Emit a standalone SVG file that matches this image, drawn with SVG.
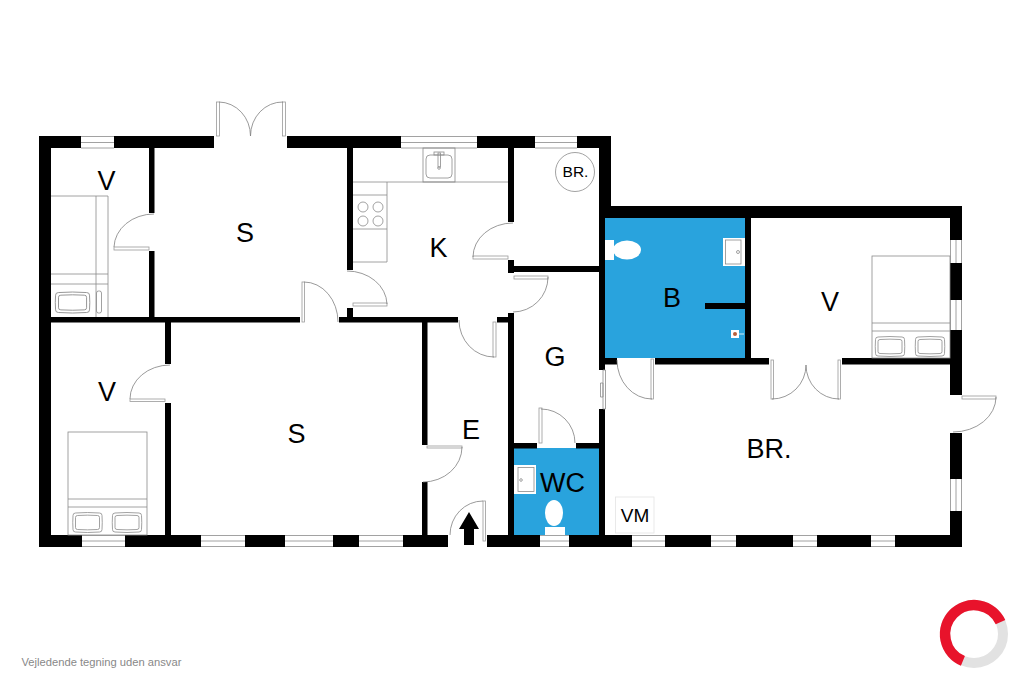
<svg xmlns="http://www.w3.org/2000/svg" width="1024" height="682" viewBox="0 0 1024 682">
<style>
.w{fill:#000}
.b{fill:#29a3dd}
.t{stroke:#8a8a8a;stroke-width:.8;fill:none}
.a{stroke:#808080;stroke-width:.8;fill:none}
.p{stroke:#999;stroke-width:.8;fill:#fff}
.l{font-family:"Liberation Sans",Arial,sans-serif;font-size:27px;fill:#000;text-anchor:middle}
.s{font-family:"Liberation Sans",Arial,sans-serif;font-size:19px;fill:#000;text-anchor:middle}
</style>
<defs>
<g id="pillow" class="t">
<path d="M3 1Q15 0 27 1Q29.500 1 29.500 3.500Q30 10.500 29.500 17.500Q29.500 20 27 20Q15 21 3 20Q.5 20 .5 17.500Q0 10.500 .5 3.500Q.5 1 3 1Z"/>
<path d="M5 3.500Q15 2.800 25 3.500Q27 3.500 27 5.500V15.500Q27 17.500 25 17.500Q15 18.200 5 17.500Q3 17.500 3 15.500V5.500Q3 3.500 5 3.500Z"/>
</g>
</defs>
<rect width="1024" height="682" fill="#fff"/>
<g id="floors">
<rect class="b" x="605" y="218" width="140" height="140"/>
<rect class="b" x="514" y="448" width="85" height="87"/>
</g>
<g id="walls">
<rect class="w" x="39" y="136" width="42" height="12"/>
<rect class="w" x="114" y="136" width="100" height="12"/>
<rect class="w" x="287" y="136" width="114" height="12"/>
<rect class="w" x="477" y="136" width="58" height="12"/>
<rect class="w" x="577" y="136" width="34" height="12"/>
<rect class="w" x="599" y="136" width="12" height="82"/>
<rect class="w" x="599" y="206" width="363" height="12"/>
<rect class="w" x="39" y="136" width="12" height="411"/>
<rect class="w" x="39" y="535" width="43" height="12"/>
<rect class="w" x="125" y="535" width="76" height="12"/>
<rect class="w" x="245" y="535" width="40" height="12"/>
<rect class="w" x="333" y="535" width="26" height="12"/>
<rect class="w" x="403" y="535" width="45" height="12"/>
<rect class="w" x="487" y="535" width="53" height="12"/>
<rect class="w" x="569" y="535" width="63" height="12"/>
<rect class="w" x="665" y="535" width="46" height="12"/>
<rect class="w" x="736" y="535" width="57" height="12"/>
<rect class="w" x="817" y="535" width="54" height="12"/>
<rect class="w" x="895" y="535" width="67" height="12"/>
<rect class="w" x="950" y="206" width="12" height="34"/>
<rect class="w" x="950" y="263" width="12" height="37"/>
<rect class="w" x="950" y="330" width="12" height="65"/>
<rect class="w" x="950" y="433" width="12" height="46"/>
<rect class="w" x="950" y="511" width="12" height="36"/>
<rect class="w" x="149" y="148" width="5.500" height="65"/>
<rect class="w" x="149" y="251" width="5.500" height="66"/>
<rect class="w" x="51" y="317" width="249" height="5.500"/>
<rect class="w" x="339" y="317" width="119" height="5.500"/>
<rect class="w" x="497" y="317" width="11" height="5.500"/>
<rect class="w" x="347" y="148" width="6" height="122"/>
<rect class="w" x="347" y="308" width="6" height="9"/>
<rect class="w" x="508" y="148" width="6" height="74"/>
<rect class="w" x="508" y="260" width="6" height="13"/>
<rect class="w" x="514" y="266" width="85" height="6"/>
<rect class="w" x="508" y="313" width="6" height="222"/>
<rect class="w" x="165" y="322" width="6" height="42"/>
<rect class="w" x="165" y="403" width="6" height="132"/>
<rect class="w" x="422" y="322" width="5.500" height="123"/>
<rect class="w" x="422" y="482" width="5.500" height="53"/>
<rect class="w" x="514" y="443" width="23" height="5.500"/>
<rect class="w" x="576" y="443" width="23" height="5.500"/>
<rect class="w" x="599" y="218" width="6" height="152"/>
<rect class="w" x="599" y="409" width="6" height="126"/>
<rect class="w" x="745" y="218" width="6" height="140"/>
<rect class="w" x="600" y="358" width="17" height="6.500"/>
<rect class="w" x="655" y="358" width="114" height="6.500"/>
<rect class="w" x="842" y="358" width="108" height="6.500"/>
<rect class="w" x="705" y="303" width="40" height="6"/>
</g>
<g id="windows" class="t">
<path d="M81 136.500H114M81 148H114M81 142.500H114"/>
<path d="M401 136.500H477M401 148H477M401 142.500H477"/>
<path d="M535 136.500H577M535 148H577M535 142.500H577"/>
<path d="M82 535.500H125M82 546.500H125M82 541H125"/>
<path d="M201 535.500H245M201 546.500H245M201 541H245"/>
<path d="M285 535.500H333M285 546.500H333M285 541H333"/>
<path d="M359 535.500H403M359 546.500H403M359 541H403"/>
<path d="M540 535.500H569M540 546.500H569M540 541H569"/>
<path d="M632 535.500H665M632 546.500H665M632 541H665"/>
<path d="M711 535.500H736M711 546.500H736M711 541H736"/>
<path d="M793 535.500H817M793 546.500H817M793 541H817"/>
<path d="M871 535.500H895M871 546.500H895M871 541H895"/>
<path d="M950.500 240V263M961.500 240V263M956 240V263"/>
<path d="M950.500 300V330M961.500 300V330M956 300V330"/>
<path d="M950.500 479V511M961.500 479V511M956 479V511"/>
<path d="M600.500 383V397H603V383ZM603 370V409H605.500V370Z"/>
</g>
<g id="doors">
<rect class="p" x="216.500" y="102" width="3" height="34"/>
<rect class="p" x="282.500" y="102" width="3" height="34"/>
<path class="a" d="M219 102A32 34 0 0 1 250.500 136A32 34 0 0 1 283 102"/>
<rect class="p" x="114" y="247" width="35" height="3"/>
<path class="a" d="M154 214A40 34 0 0 0 114 247"/>
<rect class="p" x="302" y="282" width="2.500" height="40"/>
<path class="a" d="M304 282A34 40 0 0 1 338 322"/>
<rect class="p" x="353" y="303" width="34" height="3"/>
<path class="a" d="M347 271A40 34 0 0 1 387 304"/>
<rect class="p" x="473" y="256" width="35" height="3"/>
<path class="a" d="M513 223A40 34 0 0 0 473 257"/>
<rect class="p" x="514" y="276" width="34" height="3"/>
<path class="a" d="M548 277A35 35 0 0 1 513 312"/>
<rect class="p" x="493" y="322" width="3" height="35"/>
<path class="a" d="M494 357A35 37 0 0 1 459 320"/>
<rect class="p" x="130" y="399" width="35" height="2.500"/>
<path class="a" d="M170 365A40 34 0 0 0 130 399"/>
<rect class="p" x="427" y="446" width="35" height="2"/>
<path class="a" d="M462 447A39 35 0 0 1 423 482"/>
<rect class="p" x="483" y="501" width="2.500" height="40"/>
<path class="a" d="M483 501A33 34 0 0 0 450 535"/>
<rect class="p" x="539" y="408" width="3" height="35"/>
<path class="a" d="M541 409A34 34 0 0 1 575 443"/>
<rect class="p" x="651" y="359" width="2.500" height="40"/>
<path class="a" d="M652 399A35 39 0 0 1 617 360"/>
<rect class="p" x="771" y="360" width="2.500" height="39"/>
<rect class="p" x="838" y="360" width="2.500" height="39"/>
<path class="a" d="M772 399A34 34 0 0 0 806 365A33 34 0 0 0 839 399"/>
<rect class="p" x="962" y="396" width="34" height="3"/>
<path class="a" d="M996 397A43 35 0 0 1 953 432"/>
</g>
<g id="kitchen">
<path class="t" d="M353 182H508M387 182V262H353M353 195H387M353 229H387"/>
<rect class="t" x="423" y="148" width="32" height="34"/>
<rect class="t" x="426" y="155" width="26" height="23" rx="4"/>
<rect class="t" x="438" y="153" width="2.500" height="14"/>
<rect class="t" x="434" y="152" width="10" height="3"/>
<circle class="t" cx="439" cy="168" r="1.300"/>
<circle class="t" cx="363" cy="207" r="5"/>
<circle class="t" cx="378" cy="207" r="5"/>
<circle class="t" cx="363" cy="221" r="5"/>
<circle class="t" cx="378" cy="221" r="5"/>
</g>
<g id="furniture">
<path class="t" d="M51 196H108V317M96 196V317M51 274H108M51 284H108"/>
<use href="#pillow" transform="translate(55,291.500) scale(1.170,1.050)"/>
<rect class="t" x="96.500" y="291" width="5" height="22" rx="2"/>
<rect class="t" x="68" y="432" width="79" height="103"/>
<path class="t" d="M68 499H147M68 507H147"/>
<use href="#pillow" x="72.500" y="512"/>
<use href="#pillow" x="112" y="512"/>
<rect class="t" x="872" y="256" width="78" height="102"/>
<path class="t" d="M872 323H950M872 331H950"/>
<use href="#pillow" x="875" y="336"/>
<use href="#pillow" x="915" y="336"/>
</g>
<g id="bath">
<rect x="605" y="240" width="9" height="20" fill="#fff"/>
<ellipse cx="627" cy="250" rx="14" ry="9.500" fill="#fff"/>
<rect x="723" y="238" width="22" height="28" fill="#fff"/>
<rect class="t" x="725.500" y="240" width="15.500" height="24"/>
<circle class="t" cx="738" cy="252" r="1.500"/>
<rect x="731" y="330" width="8" height="8" fill="#fff"/>
<circle cx="735" cy="334" r="2" fill="#b5603c"/>
<path d="M739 334H744" stroke="#fff" stroke-width=".8"/>
</g>
<g id="wc">
<rect x="514" y="465" width="22" height="29" fill="#fff"/>
<rect class="t" x="518" y="467.500" width="16" height="24"/>
<circle class="t" cx="521" cy="480" r="1.300"/>
<rect x="545" y="527" width="20" height="8" fill="#fff"/>
<ellipse cx="554" cy="513" rx="9" ry="13" fill="#fff"/>
</g>
<g id="entry-arrow">
<path d="M469 512L479 529H474V545H464V529H459Z" fill="#000"/>
</g>
<g id="labels">
<text class="l" x="106.500" y="190">V</text>
<text class="l" x="245" y="242">S</text>
<text class="l" x="438.500" y="257">K</text>
<text class="l" x="555" y="366">G</text>
<text class="l" x="107" y="401">V</text>
<text class="l" x="296.500" y="443">S</text>
<text class="l" x="471" y="439">E</text>
<text class="l" x="562.500" y="491.500">WC</text>
<text class="l" x="672" y="307">B</text>
<text class="l" x="830" y="311">V</text>
<text class="l" x="769" y="458">BR.</text>
<circle cx="575" cy="172" r="19.500" class="t"/>
<text x="575.500" y="177" style="font-family:'Liberation Sans',Arial,sans-serif;font-size:15.500px;text-anchor:middle" fill="#000">BR.</text>
<rect x="615.500" y="497" width="38.500" height="36" fill="#fff" stroke="#e4e4e4" stroke-width=".8"/>
<text class="s" x="635" y="522">VM</text>
<text x="21.500" y="665.500" style="font-family:'Liberation Sans',Arial,sans-serif;font-size:11.200px" fill="#888">Vejledende tegning uden ansvar</text>
</g>
<g id="logo" fill="none">
<circle cx="974" cy="634" r="29" stroke="#e2e2e2" stroke-width="10"/>
<path d="M1000.500 622.200A29 29 0 1 0 962.900 660.900" stroke="#e8132b" stroke-width="10.500"/>
</g>
</svg>
